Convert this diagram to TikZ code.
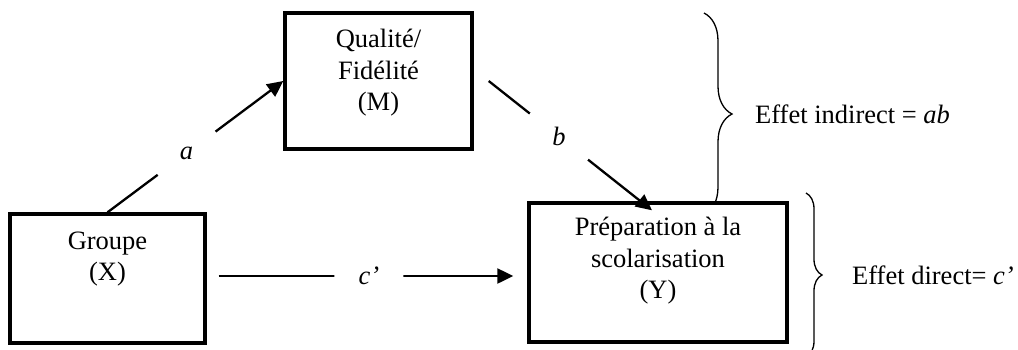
\documentclass[tikz,border=0pt]{standalone}
\usepackage{fontspec}
\setmainfont{Liberation Serif}
\usetikzlibrary{arrows.meta, positioning, calc, decorations.pathreplacing}

\begin{document}
\begin{tikzpicture}[
  x=1pt, y=-1pt,
  font=\fontsize{26.5pt}{31.5pt}\selectfont,
  box/.style={draw, line width=3.4pt, fill=white},
  txt/.style={align=center, inner sep=0pt},
  arr/.style={-{Triangle[length=16pt, width=15pt]}, line width=2.3pt},
  lblgap/.style={circle, fill=white, inner sep=0pt, minimum size=#1},
  lblgap/.default=70pt,
  brc/.style={decorate, decoration={brace, amplitude=#1}, line width=1.3pt}
]
\path[use as bounding box, fill=white] (0,0) rectangle (1018,349);
\clip (0,0) rectangle (1018,349);

% accolades
\coordinate (indtop) at (704,13);
\coordinate (indbot) at (704,215);
\coordinate (indtip) at ($(indtop)!.5!(indbot)+(28,0)$);
\draw[brc=28pt] (indtop) -- (indbot);
\node[inner sep=0pt, right=23pt of indtip] (indlbl) {Effet indirect = \textit{ab}};

\coordinate (dirtop) at (806,193);
\coordinate (dirbot) at (806,357);
\coordinate (dirtip) at ($(dirtop)!.5!(dirbot)+(16,0)$);
\draw[brc=16pt] (dirtop) -- (dirbot);
\node[inner sep=0pt, right=30pt of dirtip] (dirlbl) {Effet direct= \textit{c’}};

% variables
\node[box, minimum width=195pt, minimum height=129pt] (grp) at (107.5,278.5) {};
\node[box, minimum width=187pt, minimum height=136pt] (qual) at (378.5,81) {};
\node[box, minimum width=258pt, minimum height=139pt] (prep) at (658,272.5) {};
\node[txt, below=19pt of grp.north] (grptxt) {Groupe\\(X)};
\node[txt, below=18pt of qual.north] (qualtxt) {Qualité/\\Fidélité\\(M)};
\node[txt, below=16pt of prep.north] (preptxt) {Préparation à la\\scolarisation\\(Y)};

% chemins
\coordinate (bstart) at ([xshift=15pt]qual.east);
\coordinate (bend) at ([xshift=-6pt,yshift=-9pt]prep.north);
\draw[arr] (grp.north) -- node[lblgap=72pt, pos=.45] {\textit{a}} (qual.west);
\draw[arr] (bstart) -- node[lblgap=74pt, pos=.43] {\textit{b}} (bend);
\draw[arr] ([xshift=12pt,yshift=2.5pt]grp.east) -- node[lblgap=69pt, pos=.51] {\textit{c’}} ([xshift=-14pt,yshift=-3.5pt]prep.west);
\end{tikzpicture}
\end{document}
